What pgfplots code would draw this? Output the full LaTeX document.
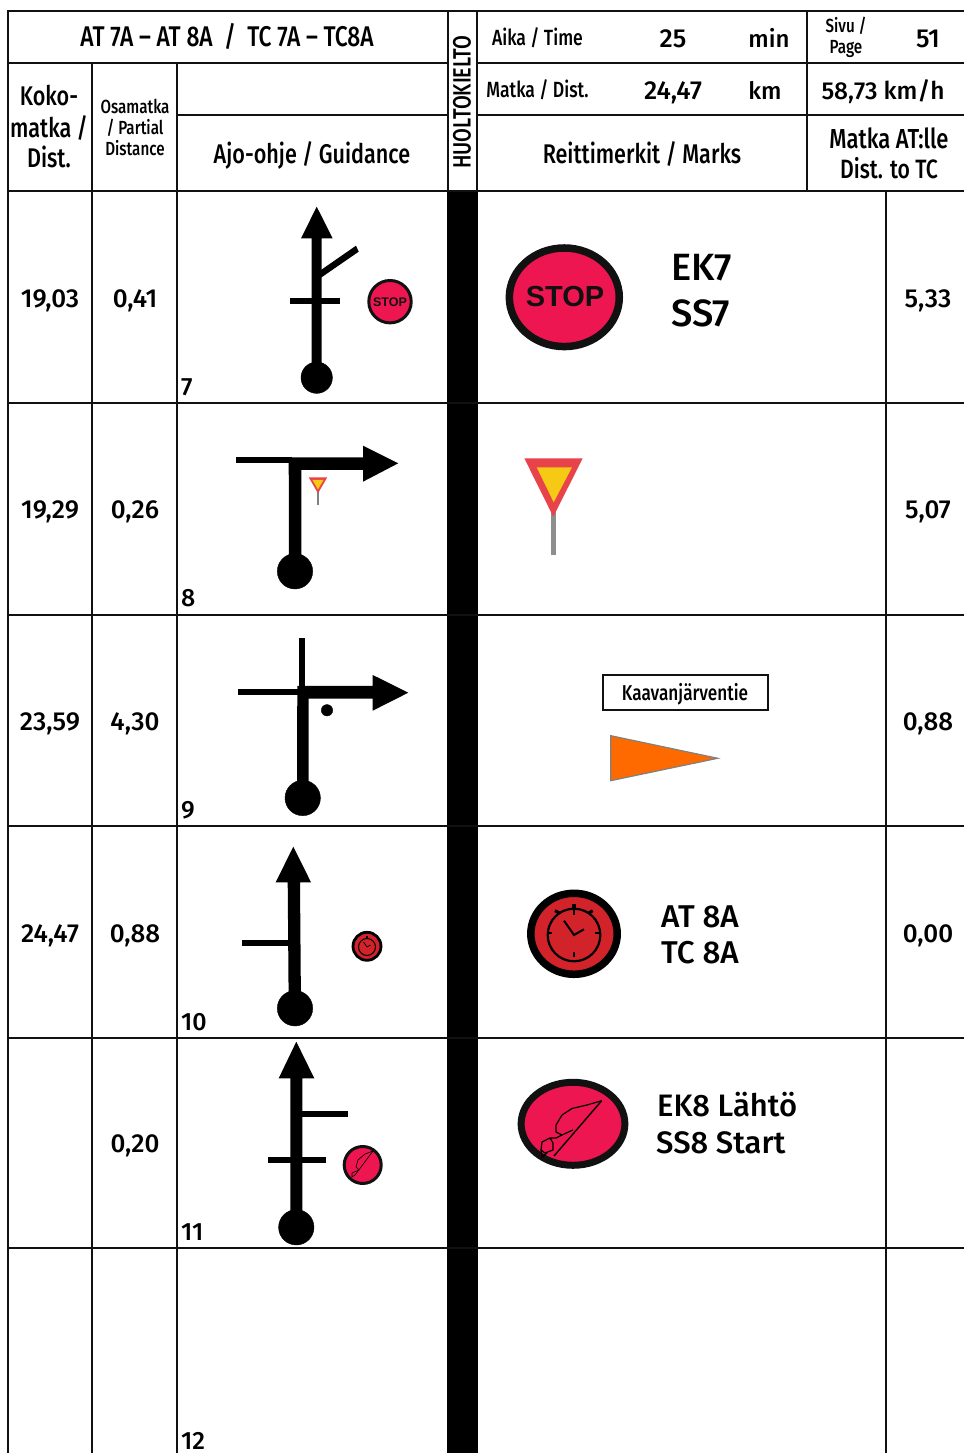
\documentclass[border=0pt]{standalone}
\usepackage{pgfplots}
\usepackage{fontspec}
\pgfplotsset{compat=1.18}
\setmainfont{Fira Sans}
\newfontfamily\cn{Fira Sans Medium}[FakeStretch=0.8]
\newfontfamily\nm{Fira Sans Medium}[FakeStretch=1.0]
\newfontfamily\arb{Liberation Sans Bold}
\definecolor{rose}{HTML}{EE1650}
\definecolor{clockred}{HTML}{D2232A}
\definecolor{ink}{HTML}{111111}
\newcommand{\T}[5][\cn]{\node[anchor=base,inner sep=0pt,yshift=-1pt] at (axis cs:#2,#3) {#1\fontsize{#4}{#4}\selectfont #5};}
\newcommand{\TL}[5][\nm]{\node[anchor=base west,inner sep=0pt,yshift=-1pt] at (axis cs:#2,#3) {#1\fontsize{#4}{#4}\selectfont #5};}
\begin{document}
\begin{tikzpicture}
\begin{axis}[hide axis,scale only axis,width=964pt,height=1453pt,set layers,
  xmin=0,xmax=964,ymin=0,ymax=1453,y dir=reverse,clip=true,
  fg/.style={on layer=axis foreground}]
\addplot[draw=none] coordinates {(0,0)(964,1453)};
% black column
\addplot[fill=black,draw=none] coordinates {(447,191)(478,191)(478,1453)(447,1453)} -- cycle;
% grid
\addplot[ink,line width=2pt] coordinates {(7.5,1453)(7.5,11)(964,11)};
\addplot[ink,line width=2pt] coordinates {(7.5,63)(447.5,63)};
\addplot[ink,line width=2pt] coordinates {(477,63)(964,63)};
\addplot[ink,line width=2pt] coordinates {(177,115.5)(447.5,115.5)};
\addplot[ink,line width=2pt] coordinates {(477,115.5)(964,115.5)};
\addplot[ink,line width=2pt] coordinates {(92,63)(92,1453)};
\addplot[ink,line width=2pt] coordinates {(177,63)(177,1453)};
\addplot[ink,line width=2pt] coordinates {(447.5,11)(447.5,191)};
\addplot[ink,line width=2pt] coordinates {(477,11)(477,191)};
\addplot[ink,line width=2pt] coordinates {(807,11)(807,191)};
\addplot[ink,line width=2pt] coordinates {(885.5,191)(885.5,1453)};
\addplot[ink,line width=2pt] coordinates {(7.5,191)(964,191)};
\addplot[ink,line width=2pt] coordinates {(7.5,403)(964,403)};
\addplot[ink,line width=2pt] coordinates {(7.5,615)(964,615)};
\addplot[ink,line width=2pt] coordinates {(7.5,826.5)(964,826.5)};
\addplot[ink,line width=2pt] coordinates {(7.5,1038)(964,1038)};
\addplot[ink,line width=2pt] coordinates {(7.5,1248)(964,1248)};
% header text
\T{227}{46}{28.5}{AT 7A – AT 8A\ \ /\ \ TC 7A – TC8A}
\T{49}{105}{27}{Koko-}
\T{49}{137}{27}{matka /}
\T{49}{167}{27}{Dist.}
\T{135}{113}{19}{Osamatka}
\T{135}{134}{19}{/ Partial}
\T{135}{155}{19}{Distance}
\T{312}{163}{27}{Ajo-ohje / Guidance}
\node[rotate=90,inner sep=0pt] at (axis cs:462,102) {\cn\fontsize{25}{25}\selectfont HUOLTOKIELTO};
\T{537.5}{45}{22}{Aika / Time}
\T[\nm]{673}{46.5}{26}{25}
\T[\nm]{769}{46.5}{24}{min}
\T{846}{32}{19}{Sivu /}
\T{846}{53}{19}{Page}
\T[\nm]{928}{46.5}{26}{51}
\T{537.5}{97}{22}{Matka / Dist.}
\T[\nm]{673}{99}{26}{24,47}
\T[\nm]{765}{99}{24}{km}
\T[\nm]{883}{99}{24.5}{58,73 km/h}
\T{642}{163}{27}{Reittimerkit / Marks}
\T{889}{148}{27.5}{Matka AT:lle}
\T{889}{178}{26.5}{Dist. to TC}
% row values
\T[\nm]{50}{307}{26}{19,03}\T[\nm]{135}{307}{26}{0,41}\T[\nm]{928}{307}{26}{5,33}
\T[\nm]{50}{518}{26}{19,29}\T[\nm]{135}{518}{26}{0,26}\T[\nm]{928}{518}{26}{5,07}
\T[\nm]{50}{730}{26}{23,59}\T[\nm]{135}{730}{26}{4,30}\T[\nm]{928}{730}{26}{0,88}
\T[\nm]{50}{942}{26}{24,47}\T[\nm]{135}{942}{26}{0,88}\T[\nm]{928}{942}{26}{0,00}
\T[\nm]{135}{1152}{26}{0,20}
\TL[\nm]{181}{395}{25}{7}
\TL[\nm]{181}{606}{25}{8}
\TL[\nm]{181}{818}{25}{9}
\TL[\nm]{181}{1030}{25}{10}
\TL[\nm]{181}{1240}{25}{11}
\TL[\nm]{181}{1448}{25}{12}
% Row 1 guidance
\addplot[fill=black,draw=none] coordinates {(316.7,206.7)(332.7,238.5)(321.7,238.5)(321.7,378)(311.7,378)(311.7,238.5)(301,238.5)} -- cycle;
\addplot[fill=black,draw=none] coordinates {(321,270)(356,245.7)(358.7,251.7)(321,277.7)} -- cycle;
\addplot[fill=black,draw=none] coordinates {(290.3,298)(340,298)(340,304)(290.3,304)} -- cycle;
\addplot[only marks,mark=*,mark size=15.7pt,mark options={fill=black,draw=none}] coordinates {(316.7,377.7)};
\addplot[only marks,mark=*,mark size=21.2pt,mark options={fill=rose,draw=ink,line width=3pt}] coordinates {(390,301.7)};
\begin{pgfonlayer}{axis foreground}
\node[inner sep=0pt] at (axis cs:390,302) {\arb\fontsize{12.5}{12.5}\selectfont\color{ink}STOP};
\end{pgfonlayer}
% Big stop
\addplot[only marks,mark=*,mark size=49.3pt,mark options={fill=rose,draw=ink,line width=7.5pt,xscale=1.115}] coordinates {(564.3,297.3)};
\begin{pgfonlayer}{axis foreground}
\node[inner sep=0pt] at (axis cs:565,297) {\arb\fontsize{29}{29}\selectfont\color{ink}STOP};
\end{pgfonlayer}
\TL[\nm]{671}{280}{38}{EK7}
\TL[\nm]{671}{326}{38}{SS7}
% Row 2 guidance
\addplot[fill=black,draw=none] coordinates {(236,457.3)(292,457.3)(292,463.3)(236,463.3)} -- cycle;
\addplot[fill=black,draw=none] coordinates {(288.7,457.3)(363,457.3)(363,445.7)(398.3,463.3)(363,481.7)(363,470)(301.3,470)(301.3,571)(289,571)} -- cycle;
\addplot[only marks,mark=*,mark size=17.7pt,mark options={fill=black,draw=none}] coordinates {(295,571.3)};
\addplot[gray,line width=1.5pt] coordinates {(318,490)(318,504.7)};
\addplot[fill={rgb,255:red,232;green,66;blue,74},draw=none] coordinates {(308.7,477.3)(327.3,477.3)(318,493.3)} -- cycle;
\addplot[fill={rgb,255:red,246;green,201;blue,21},draw=none] coordinates {(312.5,480)(323.5,480)(318,489.5)} -- cycle;
% Big yield
\addplot[fill={rgb,255:red,142;green,142;blue,142},draw=none] coordinates {(551,510)(555.7,510)(555.7,555)(551,555)} -- cycle;
\addplot[fill={rgb,255:red,232;green,66;blue,74},draw=none] coordinates {(524.3,458.3)(582.7,458.3)(553.3,516.7)} -- cycle;
\addplot[fill={rgb,255:red,246;green,201;blue,21},draw=none] coordinates {(536.7,467.3)(572,467.3)(553.7,502.3)} -- cycle;
% Row 3 guidance
\addplot[fill=black,draw=none] coordinates {(298.7,638)(304.7,638)(304.7,690)(298.7,690)} -- cycle;
\addplot[fill=black,draw=none] coordinates {(238.3,689)(299,689)(299,695.3)(238.3,695.3)} -- cycle;
\addplot[fill=black,draw=none] coordinates {(297.3,686)(372.7,686)(372.7,675)(408.3,692.7)(372.7,710.7)(372.7,698.7)(308.7,698.7)(308.7,798)(297,798)} -- cycle;
\addplot[only marks,mark=*,mark size=17.7pt,mark options={fill=black,draw=none}] coordinates {(302.7,798)};
\addplot[only marks,mark=*,mark size=5.7pt,mark options={fill=black,draw=none}] coordinates {(327,710.3)};
% Kaavanjarventie
\addplot[fill=white,draw=ink,line width=2pt] coordinates {(603.3,675)(767.7,675)(767.7,709.7)(603.3,709.7)} -- cycle;
\T{685}{700}{21.5}{Kaavanjärventie}
\addplot[fill={rgb,255:red,255;green,106;blue,0},draw=gray,line width=1.2pt] coordinates {(610.7,735.7)(717.7,758.3)(610.7,780.7)} -- cycle;
% Row 4 guidance
\addplot[fill=black,draw=none] coordinates {(293.3,846.7)(311,882.3)(300,882.3)(301,1008)(288.7,1008)(287.7,882.3)(275.7,882.3)} -- cycle;
\addplot[fill=black,draw=none] coordinates {(242,939.7)(289,939.7)(289,946)(242,946)} -- cycle;
\addplot[only marks,mark=*,mark size=14pt,mark options={fill=clockred,draw=black,line width=2.8pt}] coordinates {(367,946.3)};
\addplot[only marks,mark=*,mark size=17.7pt,mark options={fill=black,draw=none}] coordinates {(295,1008.3)};
\addplot[fg,only marks,mark=o,mark size=8.5pt,mark options={fill=none,draw=black,line width=1pt}] coordinates {(367,947)};
\addplot[fg,black,line width=.7pt] coordinates {(363.5,942)(367,947)(370.5,945)};
\addplot[fg,black,line width=1.2pt] coordinates {(367,936)(367,938.5)};
% Big clock
\addplot[only marks,mark=*,mark size=40.5pt,mark options={fill=clockred,draw=black,line width=7.5pt,xscale=1.067}] coordinates {(574,933.8)};
\addplot[fg,only marks,mark=o,mark size=26.3pt,mark options={fill=none,draw=black,line width=2.2pt}] coordinates {(574,935)};
\addplot[fg,black,line width=2pt] coordinates {(564,920.7)(574,935)(584,929.3)};
\addplot[fg,black,line width=4.5pt] coordinates {(574,904.3)(574,909.5)};
\addplot[fg,black,line width=3pt] coordinates {(555,910.7)(560,913.3)};
\addplot[fg,black,line width=3pt] coordinates {(592.7,910.7)(588.3,913.3)};
\addplot[fg,black,line width=1.5pt] coordinates {(574,909)(574,915)};
\addplot[fg,black,line width=1.5pt] coordinates {(574,952)(574,957)};
\addplot[fg,black,line width=1.5pt] coordinates {(547,933)(552,933)};
\addplot[fg,black,line width=1.5pt] coordinates {(595,933)(600,933)};
\TL[\nm]{661}{927}{31.5}{AT 8A}
\TL[\nm]{661}{963}{31.5}{TC 8A}
% Row 5 guidance
\addplot[fill=black,draw=none] coordinates {(296.3,1041.7)(314.3,1078.3)(302.3,1078.3)(302.3,1227)(290.3,1227)(290.3,1078.3)(278.7,1078.3)} -- cycle;
\addplot[fill=black,draw=none] coordinates {(302,1111)(348,1111)(348,1117)(302,1117)} -- cycle;
\addplot[fill=black,draw=none] coordinates {(268.3,1157)(325.7,1157)(325.7,1162.7)(268.3,1162.7)} -- cycle;
\addplot[only marks,mark=*,mark size=17.7pt,mark options={fill=black,draw=none}] coordinates {(296.3,1227.3)};
\addplot[only marks,mark=*,mark size=18.5pt,mark options={fill=rose,draw=ink,line width=3pt}] coordinates {(362.7,1165)};
\addplot[fg,black,line width=.6pt] coordinates {(373,1151)(355,1175)};
\addplot[fg,black,line width=.6pt] coordinates {(373,1151)(365,1154)(358,1160)(356,1167)(359,1170)(352,1173)(352,1177)(355,1175)};
% Big flag
\addplot[only marks,mark=*,mark size=41.5pt,mark options={fill=rose,draw=ink,line width=7pt,xscale=1.25}] coordinates {(573,1123.8)};
\addplot[fg,black,line width=1.4pt] coordinates {(601.7,1100.7)(554,1156)};
\addplot[fg,black,line width=1.2pt] coordinates {(601.7,1100.7)(587,1105)(572,1108.5)(562,1115)(556,1125)(556,1132)(562,1135)(573,1130)};
\addplot[fg,black,line width=1.2pt] coordinates {(562,1135)(556,1138)(550,1138)(542,1142)(541,1150)(545,1153)(553,1150)(553,1143)(550,1138)};
\addplot[fg,black,line width=1.2pt] coordinates {(541,1150)(542,1157)(547,1153)};
\TL[\nm]{657}{1116}{31}{EK8 Lähtö}
\TL[\nm]{656}{1153}{31}{SS8 Start}
\end{axis}
\end{tikzpicture}
\end{document}
